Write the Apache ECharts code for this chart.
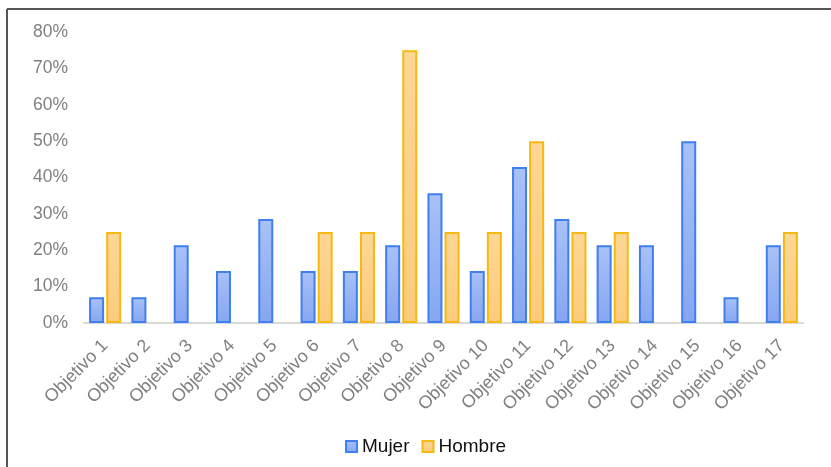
<!DOCTYPE html>
<html>
<head>
<meta charset="utf-8">
<script src="https://cdn.jsdelivr.net/npm/echarts@6/dist/echarts.min.js"></script>
<style>
  html, body { margin: 0; padding: 0; background: #fff; }
  #chart { width: 831px; height: 467px; }
</style>
</head>
<body>
<div id="chart"></div>
<script>
// Share of respondents per objective, by gender (percent)
const categories = ['Objetivo 1', 'Objetivo 2', 'Objetivo 3', 'Objetivo 4', 'Objetivo 5', 'Objetivo 6',
  'Objetivo 7', 'Objetivo 8', 'Objetivo 9', 'Objetivo 10', 'Objetivo 11', 'Objetivo 12',
  'Objetivo 13', 'Objetivo 14', 'Objetivo 15', 'Objetivo 16', 'Objetivo 17'];
const mujer = [7.1, 7.1, 21.4, 14.3, 28.6, 14.3, 14.3, 21.4, 35.7, 14.3, 42.9, 28.6, 21.4, 21.4, 50, 7.1, 21.4];
const hombre = [25, null, null, null, null, 25, 25, 75, 25, 25, 50, 25, 25, null, null, null, 25];
const yTicks = [0, 10, 20, 30, 40, 50, 60, 70, 80];

const chart = echarts.init(document.getElementById('chart'), null, { renderer: 'canvas' });

const blueFill = new echarts.graphic.LinearGradient(0, 0, 0, 1, [
  { offset: 0, color: '#a9c1f7' }, { offset: 1, color: '#86a6f0' }
]);
const yellowFill = new echarts.graphic.LinearGradient(0, 0, 0, 1, [
  { offset: 0, color: '#fdd796' }, { offset: 1, color: '#fbcb7c' }
]);

chart.setOption({
  animation: false,
  textStyle: { fontFamily: 'Liberation Sans, Arial, sans-serif' },
  graphic: [
    { type: 'line', shape: { x1: 7, y1: 9, x2: 831, y2: 9 }, style: { stroke: '#555', lineWidth: 2 } },
    { type: 'line', shape: { x1: 7, y1: 9, x2: 7, y2: 467 }, style: { stroke: '#555', lineWidth: 2 } }
  ],
  grid: { left: 84, right: 28, top: 32, bottom: 144, containLabel: false },
  legend: {
    bottom: 6,
    left: 340,
    icon: 'rect',
    itemWidth: 11,
    itemHeight: 11,
    itemGap: 12,
    textStyle: { color: '#111', fontSize: 19, padding: [0, 0, 0, 0] },
    data: ['Mujer', 'Hombre']
  },
  xAxis: {
    type: 'category',
    data: categories,
    axisLine: { show: true, lineStyle: { color: '#d9d9d9', width: 2 } },
    axisTick: { show: false },
    axisLabel: { rotate: 45, color: '#808080', fontSize: 18, margin: 20, interval: 0 }
  },
  yAxis: {
    type: 'value',
    min: 0,
    max: 80,
    interval: 10,
    splitLine: { show: false },
    axisLine: { show: false },
    axisTick: { show: false },
    axisLabel: {
      color: '#808080', fontSize: 17.5, margin: 16,
      formatter: v => yTicks.includes(v) ? v + '%' : ''
    }
  },
  series: [
    {
      name: 'Mujer', type: 'bar', data: mujer,
      barWidth: 15, barGap: '14%',
      itemStyle: { color: blueFill, borderColor: '#3f7ff0', borderWidth: 2 }
    },
    {
      name: 'Hombre', type: 'bar', data: hombre,
      barWidth: 15,
      itemStyle: { color: yellowFill, borderColor: '#f6b912', borderWidth: 2 }
    }
  ]
});
</script>
</body>
</html>
